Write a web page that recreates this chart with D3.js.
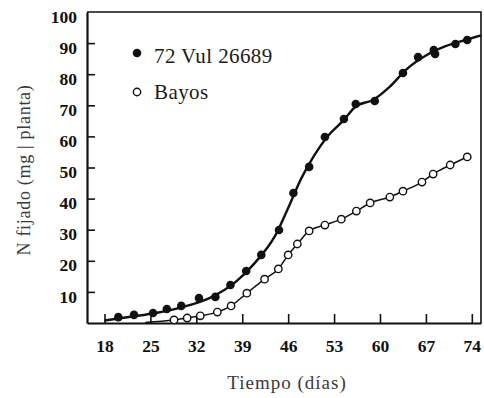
<!DOCTYPE html>
<html>
<head>
<meta charset="utf-8">
<script src="https://cdn.jsdelivr.net/npm/d3@7"></script>
<style>
  body { margin: 0; background: #fff; }
  svg { display: block; }
</style>
</head>
<body>
<svg id="chart" width="484" height="398"></svg>
<script>
// values (días, mg/planta)
const vulDays = [20.1, 22.5, 25.4, 27.5, 29.7, 32.4, 34.9, 37.2, 39.6, 41.9, 44.6, 46.8, 49.2, 51.6, 54.5, 56.3, 59.2, 63.5, 65.8, 68.2, 68.4, 71.5, 73.3];
const vulN    = [1.9, 2.6, 3.2, 4.5, 5.5, 8.0, 8.4, 12.2, 16.7, 21.9, 29.9, 41.8, 50.2, 59.8, 65.6, 70.4, 71.4, 80.4, 85.5, 87.8, 86.5, 89.7, 91.0];
// fitted curve drawn through the black points
const vulFitDays = [18, 22, 26, 30, 34, 38, 41, 44, 46, 48, 50, 52, 54.5, 56.3, 59, 61.5, 64, 67, 70, 73, 75.4];
const vulFitN    = [0.8, 2.0, 3.3, 5.2, 8.0, 13.2, 19.5, 28.0, 37.0, 46.5, 54.0, 60.0, 65.3, 69.6, 71.8, 76.0, 81.5, 86.0, 89.0, 91.0, 92.5];

const bayosDays = [28.6, 30.6, 32.6, 35.2, 37.3, 39.7, 42.4, 44.5, 46.0, 47.4, 49.2, 51.6, 54.1, 56.4, 58.5, 61.5, 63.5, 66.4, 68.1, 70.7, 73.3];
const bayosN    = [1.0, 1.6, 2.3, 3.5, 5.5, 9.6, 14.1, 17.4, 21.9, 25.4, 29.6, 31.5, 33.4, 36.0, 38.6, 40.5, 42.4, 45.3, 47.9, 50.8, 53.4];
const bayosStart = [24.2, 0.2];

const xTicks = [18, 25, 32, 39, 46, 53, 60, 67, 74];
const yTicks = [10, 20, 30, 40, 50, 60, 70, 80, 90, 100];

const seriesNames = ["72 Vul 26689", "Bayos"];

const svg = d3.select("#chart");
const mLeft = 87, mRight = 481, mTop = 12, mBottom = 323;

const x = d3.scaleLinear().domain([15.33, 75.4]).range([mLeft, mRight]);
const y = d3.scaleLinear().domain([0, 100]).range([mBottom, mTop]);

const serif = "'Liberation Serif', 'DejaVu Serif', serif";

// frame
svg.append("path")
    .attr("d", `M${mLeft},${mTop}H${mRight}V${mBottom}`)
    .attr("fill", "none")
    .attr("stroke", "#111")
    .attr("stroke-width", 1.6);

// x axis, ticks pointing in
const xAxis = svg.append("g")
    .attr("transform", `translate(0,${mBottom})`)
    .call(d3.axisBottom(x).tickValues(xTicks).tickSizeInner(-9).tickSizeOuter(0).tickPadding(17));
xAxis.select(".domain").attr("stroke", "#111").attr("stroke-width", 2.2);
xAxis.selectAll(".tick line").attr("stroke", "#111").attr("stroke-width", 1.6);
xAxis.selectAll("text")
    .attr("fill", "#111")
    .style("font-family", serif)
    .style("font-weight", "bold")
    .style("font-size", "17.5px");

// y axis, ticks pointing in
const yAxis = svg.append("g")
    .attr("transform", `translate(${mLeft},0)`)
    .call(d3.axisLeft(y).tickValues(yTicks).tickSizeInner(-8).tickSizeOuter(0).tickPadding(10));
yAxis.select(".domain").attr("stroke", "#111").attr("stroke-width", 2.2);
yAxis.selectAll(".tick line").attr("stroke", "#111").attr("stroke-width", 1.6)
    .attr("display", d => d === 100 ? "none" : null);
yAxis.selectAll("text")
    .attr("fill", "#111")
    .attr("dy", "0.58em")
    .style("font-family", serif)
    .style("font-weight", "bold")
    .style("font-size", "17.5px");

// curves
const vulFit = vulFitDays.map((d, i) => [d, vulFitN[i]]);
const bayosPts = [bayosStart].concat(bayosDays.map((d, i) => [d, bayosN[i]]));

const line = d3.line()
    .x(d => x(d[0]))
    .y(d => y(d[1]))
    .curve(d3.curveMonotoneX);

svg.append("path")
    .datum(vulFit)
    .attr("d", line)
    .attr("fill", "none")
    .attr("stroke", "#111")
    .attr("stroke-width", 2.4);

svg.append("path")
    .datum(bayosPts)
    .attr("d", line)
    .attr("fill", "none")
    .attr("stroke", "#111")
    .attr("stroke-width", 1.5);

// points
svg.append("g").selectAll("circle")
    .data(vulDays.map((d, i) => [d, vulN[i]]))
    .join("circle")
    .attr("cx", d => x(d[0]))
    .attr("cy", d => y(d[1]))
    .attr("r", 4.3)
    .attr("fill", "#111");

svg.append("g").selectAll("circle")
    .data(bayosDays.map((d, i) => [d, bayosN[i]]))
    .join("circle")
    .attr("cx", d => x(d[0]))
    .attr("cy", d => y(d[1]))
    .attr("r", 3.7)
    .attr("fill", "#fff")
    .attr("stroke", "#111")
    .attr("stroke-width", 1.4);

// legend
const legend = svg.append("g").attr("transform", "translate(137,53)");
legend.append("circle").attr("cx", 0).attr("cy", 0).attr("r", 4.3).attr("fill", "#111");
legend.append("circle").attr("cx", 0).attr("cy", 39).attr("r", 3.7)
    .attr("fill", "#fff").attr("stroke", "#111").attr("stroke-width", 1.4);
legend.selectAll("text")
    .data(seriesNames)
    .join("text")
    .attr("x", 17)
    .attr("y", (d, i) => 4 + i * 36)
    .attr("dy", "0.3em")
    .attr("fill", "#1a1a1a")
    .style("font-family", serif)
    .style("font-size", "21px")
    .style("letter-spacing", "0.4px")
    .text(d => d);

// axis titles
svg.append("text")
    .attr("x", 287)
    .attr("y", 389)
    .attr("text-anchor", "middle")
    .attr("fill", "#3a3a3a")
    .style("font-family", serif)
    .style("font-size", "19px")
    .style("letter-spacing", "1px")
    .text("Tiempo (días)");

svg.append("text")
    .attr("transform", "translate(30,170) rotate(-90)")
    .attr("text-anchor", "middle")
    .attr("fill", "#3a3a3a")
    .style("font-family", serif)
    .style("font-size", "18px")
    .style("letter-spacing", "0.7px")
    .text("N  fijado (mg | planta)");
</script>
</body>
</html>
